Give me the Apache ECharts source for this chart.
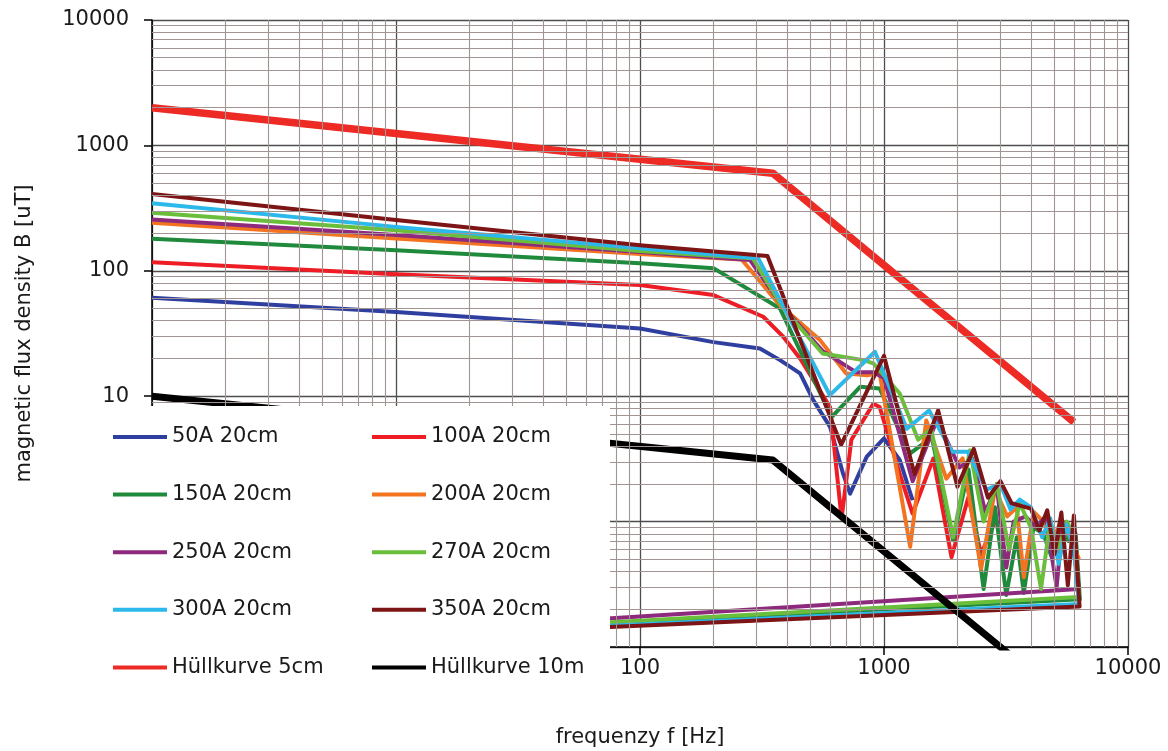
<!DOCTYPE html>
<html>
<head>
<meta charset="utf-8">
<script src="https://cdn.jsdelivr.net/npm/echarts@6/dist/echarts.min.js"></script>
<style>html,body{margin:0;padding:0;background:#fff}#c{width:1168px;height:751px}</style>
</head>
<body>
<div id="c"></div>
<script>
// ---- data: [frequency Hz, B uT] ----
const names = ['50A 20cm','100A 20cm','150A 20cm','200A 20cm','250A 20cm','270A 20cm','300A 20cm','350A 20cm','Hüllkurve 5cm','Hüllkurve 10m'];
const colors = ['#2f3f9f','#ee1c25','#1f8a3c','#f47321','#8e2a7d','#6abf3a','#2bb8ea','#7d1416','#ee2a24','#000000'];

const s50A = [[1,61],[10,47],[100,34.7],[200,27],[310,24],[375,19.4],[453,15.2],[513,9.3],[601,5.7],[680,2.4],[726,1.67],[850,3.3],[1000,4.6],[1160,3.1],[1310,1.48]];
const s100A = [[1,117],[10,94],[100,77],[200,64],[320,43],[387,29.7],[453,20],[601,8.2],[670,1.06],[735,4.5],[904,8.7],[960,8.2],[1160,2.4],[1310,1.16],[1592,3.18],[1891,0.52],[2218,1.57],[2500,0.55],[2850,1.0]];
const s150A = [[1,180],[10,146],[100,115],[200,105],[375,50],[610,6.8],[800,11.9],[960,11.5],[1280,3.5],[1570,4.7],[1920,0.71],[2220,2.6],[2560,0.29],[2850,1.3],[3170,0.26],[3500,0.75],[3740,0.27],[4100,0.9],[4500,0.8],[4900,0.5],[5300,0.9],[5700,0.7],[6100,0.8],[6350,0.24],[1,0.1]];
const s200A = [[1,242],[10,181],[100,136],[261,123],[375,53],[547,28],[700,15.2],[850,14.7],[960,15.2],[1280,0.63],[1490,6.4],[1800,2.2],[2100,3.2],[2500,0.42],[2850,1.8],[3200,1.1],[3500,1.3],[3740,0.36],[4100,1.2],[4500,1.0],[4900,0.7],[5300,1.0],[5700,0.8],[6300,0.5]];
const s250A = [[1,257],[10,193],[100,141],[282,122],[387,51],[560,23],[770,15.5],[904,15.5],[1000,14],[1310,2.1],[1650,6.5],[2040,2.7],[2300,3.2],[2600,1.2],[2900,1.9],[3170,0.43],[3400,1.0],[3800,1.1],[4200,0.9],[4600,1.1],[5100,0.3],[5400,1.0],[5800,0.9],[6300,0.29],[1,0.1]];
const s270A = [[1,290],[10,211],[100,144],[290,126],[387,50],[560,21.9],[824,19.4],[904,18.3],[1160,10.5],[1380,4.5],[1560,5.5],[1920,0.75],[2250,3.7],[2560,1.0],[2900,2.0],[3250,0.6],[3600,1.4],[4000,0.9],[4400,0.29],[4800,1.0],[5200,0.6],[5600,1.0],[6000,0.8],[6300,0.25],[1,0.1]];
const s300A = [[1,345],[10,224],[100,151],[305,126],[600,10.2],[918,22.6],[1240,5.5],[1530,7.7],[1900,3.6],[2200,3.6],[2630,1.8],[3000,2.0],[3300,1.25],[3600,1.5],[4000,1.3],[4450,0.75],[4800,1.06],[5200,0.46],[5600,0.95],[6000,0.6],[6300,0.22],[1,0.1]];
const s350A = [[1,410],[10,254],[100,160],[333,131],[667,4.1],[1000,21],[1333,2.4],[1667,7.7],[2000,1.9],[2333,3.8],[2667,1.55],[3000,2.1],[3333,1.4],[4000,1.27],[4333,0.85],[4667,1.23],[5000,0.55],[5333,1.18],[5667,0.31],[6000,1.12],[6333,0.21],[1,0.1]];
const envelope5cm = [[1,2000],[350,600],[6000,6.2]];
const envelope10m = [[1,10],[350,3.1],[6000,0.033]];

const xTickLabels = ['100','1000','10000'];
const yTickLabels = ['10','100','1000','10000'];
const legendCol1 = ['50A 20cm','150A 20cm','250A 20cm','300A 20cm','Hüllkurve 5cm'];
const legendCol2 = ['100A 20cm','200A 20cm','270A 20cm','350A 20cm','Hüllkurve 10m'];

const allData = [s50A,s100A,s150A,s200A,s250A,s270A,s300A,s350A,envelope5cm,envelope10m];
const widths = [4,4,4,4,4,4,4,4,7.5,7];

// minor grid positions (2..9 of each decade)
const xMinor = [], yMinor = [];
for (let e = 0; e < 4; e++) for (let k = 2; k <= 9; k++) xMinor.push(+(k * Math.pow(10, e)).toPrecision(6));
for (let e = -1; e < 4; e++) for (let k = 2; k <= 9; k++) yMinor.push(+(k * Math.pow(10, e)).toPrecision(6));

const FONT = "'DejaVu Sans', sans-serif";
const fmt = list => v => { const e = Math.round(Math.log10(v)); const s = String(Math.pow(10, e)); return list.includes(s) ? s : ''; };

const series = allData.map((d, i) => ({
  name: names[i], type: 'line', data: d, symbol: 'none', showSymbol: false,
  lineStyle: { color: colors[i], width: widths[i], join: 'round' }, itemStyle: { color: colors[i] },
  z: 2, animation: false, clip: true
}));
series.unshift({
  name: '_grid', type: 'line', data: [[1, 1]], symbol: 'none', lineStyle: { opacity: 0 }, silent: true, z: 1, animation: false,
  markLine: {
    silent: true, symbol: ['none', 'none'], label: { show: false }, animation: false,
    lineStyle: { color: '#a39494', width: 1.1, type: 'solid' },
    data: [...xMinor.map(v => ({ xAxis: v })), ...yMinor.map(v => ({ yAxis: v }))]
  }
});

const legendBase = {
  orient: 'vertical', top: 425, padding: 0, icon: 'rect', itemWidth: 54, itemHeight: 4, itemGap: 33.6, selectedMode: false, z: 200,
  textStyle: { fontFamily: FONT, fontSize: 21, color: '#1a1a1a', lineHeight: 24 }
};

const chart = echarts.init(document.getElementById('c'), null, { renderer: 'canvas' });
chart.setOption({
  animation: false,
  backgroundColor: '#ffffff',
  grid: { left: 152, right: 40, top: 20, bottom: 104, containLabel: false, outerBoundsMode: 'none' },
  xAxis: {
    type: 'log', logBase: 10, min: 1, max: 10000,
    name: 'frequenzy f [Hz]', nameLocation: 'middle', nameGap: 80,
    nameTextStyle: { fontFamily: FONT, fontSize: 21, color: '#1a1a1a' },
    axisLine: { show: true, lineStyle: { color: '#000', width: 1.5 } },
    axisTick: { show: true, length: 8, lineStyle: { color: '#000', width: 1.5 } },
    axisLabel: { fontFamily: FONT, fontSize: 21, color: '#1a1a1a', margin: 11, formatter: fmt(xTickLabels) },
    splitLine: { show: true, lineStyle: { color: '#4d4d4d', width: 1.3 } },
    minorTick: { show: false }, minorSplitLine: { show: false }
  },
  yAxis: {
    type: 'log', logBase: 10, min: 0.1, max: 10000,
    name: 'magnetic flux density B [uT]', nameLocation: 'middle', nameGap: 117,
    nameTextStyle: { fontFamily: FONT, fontSize: 21, color: '#1a1a1a' },
    axisLine: { show: true, lineStyle: { color: '#000', width: 1.5 } },
    axisTick: { show: true, length: 8, lineStyle: { color: '#000', width: 1.5 } },
    axisLabel: { fontFamily: FONT, fontSize: 21, color: '#1a1a1a', margin: 23, formatter: fmt(yTickLabels) },
    splitLine: { show: true, lineStyle: { color: '#4d4d4d', width: 1.3 } },
    minorTick: { show: false }, minorSplitLine: { show: false }
  },
  legend: [
    Object.assign({}, legendBase, { left: 113, data: legendCol1 }),
    Object.assign({}, legendBase, { left: 372, data: legendCol2 })
  ],
  graphic: [{ type: 'rect', z: 100, silent: true, shape: { x: 90, y: 406, width: 520, height: 294 }, style: { fill: '#ffffff' } }],
  series: series
});
</script>
</body>
</html>
